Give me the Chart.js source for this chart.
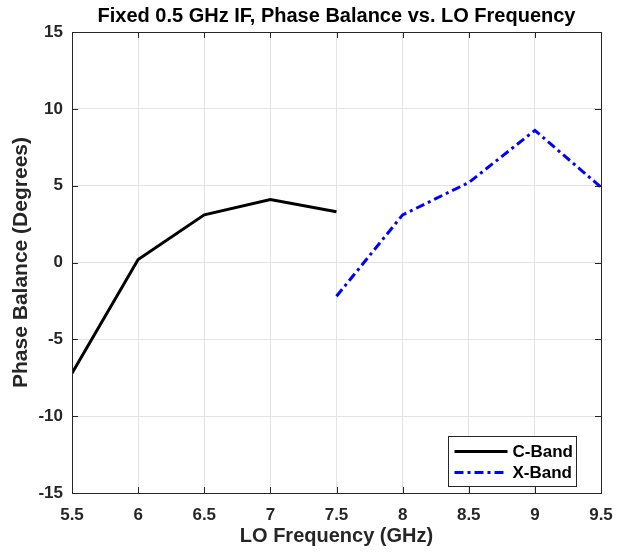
<!DOCTYPE html>
<html>
<head>
<meta charset="utf-8">
<script src="https://cdn.jsdelivr.net/npm/chart.js@4/dist/chart.umd.min.js"></script>
<style>
  html, body { margin: 0; padding: 0; background: #fff; }
  #wrap { width: 625px; height: 554px; }
</style>
</head>
<body>
<div id="wrap"><canvas id="chart" width="625" height="554"></canvas></div>
<script>
// data
var cBandFreq = [5.5, 6, 6.5, 7, 7.5];
var cBandPhase = [-7.2, 0.2, 3.1, 4.1, 3.3];
var xBandFreq = [7.5, 8, 8.5, 9, 9.5];
var xBandPhase = [-2.2, 3.1, 5.2, 8.6, 4.9];
var seriesNames = ['C-Band', 'X-Band'];
var xRange = [5.5, 9.5];
var yRange = [-15, 15];

var FONT = '"Liberation Sans", Arial, Helvetica, sans-serif';
var AXIS = '#262626';

function toPoints(xs, ys) {
	var pts = [];
	for (var i = 0; i < xs.length; i++) {
		pts.push({x: xs[i], y: ys[i]});
	}
	return pts;
}

// box, inward ticks on all four sides and the legend inside the axes
var matlabBox = {
	id: 'matlabBox',
	afterDatasetsDraw: function(chart) {
		var ctx = chart.ctx, a = chart.chartArea;
		var sx = chart.scales.x, sy = chart.scales.y;
		var tl = 6;
		ctx.save();
		ctx.strokeStyle = AXIS;
		ctx.lineWidth = 1;
		ctx.beginPath();
		sx.ticks.forEach(function(t) {
			var px = Math.round(sx.getPixelForValue(t.value)) + 0.5;
			ctx.moveTo(px, a.bottom); ctx.lineTo(px, a.bottom - tl);
			ctx.moveTo(px, a.top); ctx.lineTo(px, a.top + tl);
		});
		sy.ticks.forEach(function(t) {
			var py = Math.round(sy.getPixelForValue(t.value)) + 0.5;
			ctx.moveTo(a.left, py); ctx.lineTo(a.left + tl, py);
			ctx.moveTo(a.right, py); ctx.lineTo(a.right - tl, py);
		});
		ctx.stroke();
		ctx.strokeRect(Math.round(a.left) + 0.5, Math.round(a.top) + 0.5,
			Math.round(a.right - a.left), Math.round(a.bottom - a.top));

		// legend
		var bw = 128, bh = 50;
		var bx = Math.round(a.right - 25 - bw) + 0.5;
		var by = Math.round(a.bottom - 7 - bh) + 0.5;
		ctx.fillStyle = '#fff';
		ctx.fillRect(bx, by, bw, bh);
		ctx.strokeStyle = AXIS;
		ctx.strokeRect(bx, by, bw, bh);
		ctx.font = 'bold 17px ' + FONT;
		ctx.textBaseline = 'middle';
		chart.data.datasets.forEach(function(ds, i) {
			var ly = by + 15 + i * 21;
			ctx.beginPath();
			ctx.strokeStyle = ds.borderColor;
			ctx.lineWidth = ds.borderWidth;
			ctx.setLineDash(ds.borderDash || []);
			ctx.moveTo(bx + 6, ly); ctx.lineTo(bx + 59, ly);
			ctx.stroke();
			ctx.setLineDash([]);
			ctx.fillStyle = '#000';
			ctx.fillText(ds.label, bx + 64, ly + 1);
		});
		ctx.restore();
	}
};

var chart = new Chart(document.getElementById('chart'), {
	type: 'line',
	data: {
		datasets: [{
			label: seriesNames[0],
			data: toPoints(cBandFreq, cBandPhase),
			borderColor: '#000000',
			borderWidth: 3,
			pointRadius: 0,
			fill: false
		}, {
			label: seriesNames[1],
			data: toPoints(xBandFreq, xBandPhase),
			borderColor: '#0000ff',
			borderWidth: 3,
			borderDash: [9, 4, 3, 4],
			pointRadius: 0,
			fill: false
		}]
	},
	options: {
		responsive: false,
		animation: false,
		layout: {padding: {left: 0, right: 24, top: 0, bottom: 0}},
		plugins: {
			legend: {display: false},
			tooltip: {enabled: false},
			title: {
				display: true,
				fullSize: false,
				text: 'Fixed 0.5 GHz IF, Phase Balance vs. LO Frequency',
				color: '#000',
				font: {family: FONT, size: 20, weight: 'bold', lineHeight: 1.2},
				padding: {top: 4, bottom: 4}
			}
		},
		scales: {
			x: {
				type: 'linear',
				min: xRange[0],
				max: xRange[1],
				afterFit: function(s) { s.height = 61; },
				ticks: {stepSize: 0.5, padding: 12, color: '#262626',
					font: {family: FONT, size: 17, weight: 'bold'}, maxRotation: 0,
					callback: function(v) { return String(Math.round(v * 10) / 10); }},
				grid: {color: '#e3e3e3', drawTicks: false},
				border: {display: false},
				title: {display: true, text: 'LO Frequency (GHz)', color: '#262626',
					font: {family: FONT, size: 20, weight: 'bold', lineHeight: 1.2},
					padding: {top: 0, bottom: 6}}
			},
			y: {
				min: yRange[0],
				max: yRange[1],
				afterFit: function(s) { s.width = 72; },
				ticks: {stepSize: 5, padding: 9, color: '#262626',
					font: {family: FONT, size: 17, weight: 'bold'}},
				grid: {color: '#e3e3e3', drawTicks: false},
				border: {display: false},
				title: {display: true, text: 'Phase Balance (Degrees)', color: '#262626',
					font: {family: FONT, size: 21, weight: 'bold', lineHeight: 1.2},
					padding: {top: 9, bottom: 0}}
			}
		}
	},
	plugins: [matlabBox]
});
</script>
</body>
</html>
